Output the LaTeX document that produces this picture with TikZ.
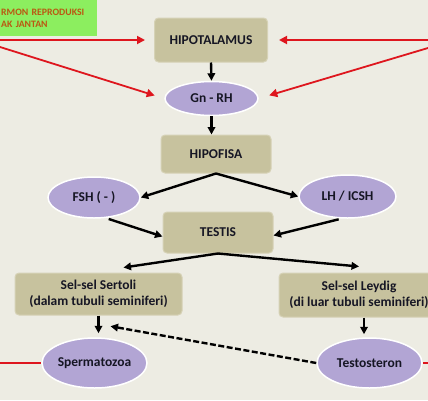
\documentclass[tikz,border=0pt]{standalone}
\usepackage{fontspec}
\setmainfont{Carlito}
\usepackage{tikz}
\usetikzlibrary{positioning,arrows.meta,calc,shapes.geometric}
\usepackage{xcolor}
\definecolor{bgcol}{RGB}{237,236,227}
\definecolor{boxcol}{RGB}{199,194,158}
\definecolor{boxedge}{RGB}{214,210,182}
\definecolor{ellcol}{RGB}{178,165,212}
\definecolor{greencol}{RGB}{140,238,95}
\definecolor{titlecol}{RGB}{186,88,18}
\definecolor{redcol}{RGB}{222,22,30}
\definecolor{textcol}{RGB}{22,22,36}

\begin{document}
\begin{tikzpicture}[
    x=1pt, y=-1pt,
    organ/.style={rectangle, rounded corners=4pt, fill=boxcol, draw=boxedge, line width=1pt,
        inner sep=1pt, align=center, font=\fontsize{13.5}{15.5}\selectfont\bfseries, text=textcol},
    hormon/.style={ellipse, fill=ellcol, draw=white, line width=1.5pt, inner sep=0pt,
        font=\fontsize{13.5}{15.5}\selectfont\bfseries, text=textcol},
    arr/.style={-{Triangle[length=7.5pt,width=7.5pt]}, line width=2.4pt, black},
    redarr/.style={-{Triangle[length=8pt,width=8pt]}, line width=1.8pt, redcol},
    redline/.style={line width=1.8pt, redcol},
    judulbox/.style={rectangle, fill=greencol, anchor=north west, text width=95pt, minimum height=36pt,
        inner xsep=1pt, align=left, font=\fontsize{9.8}{12}\selectfont\bfseries, text=titlecol}
]
\fill[bgcol] (0,0) rectangle (428,400);
\useasboundingbox (0,0) rectangle (428,400);
\clip (0,0) rectangle (428,400);

% title (cut at the left edge)
\node[judulbox] (judul) at (0,0) {RMON REPRODUKSI\\AK JANTAN};

% organs and hormones
\node[organ, minimum width=113pt, minimum height=44pt] (hipotalamus) at (211,40) {HIPOTALAMUS};
\node[hormon, minimum width=93pt, minimum height=34pt] (gnrh) at (211.5,98.5) {Gn - RH};
\node[organ, minimum width=110pt, minimum height=38pt] (hipofisa) at (216,154) {HIPOFISA};
\node[hormon, minimum width=92pt, minimum height=41pt] (fsh) at (94,197.5) {FSH ( - )};
\node[hormon, minimum width=97pt, minimum height=43pt] (lh) at (347.5,196.5) {LH / ICSH};
\node[organ, minimum width=110pt, minimum height=41pt] (testis) at (218,232.5) {TESTIS};
\node[organ, minimum width=167pt, minimum height=42pt] (sertoli) at (98.5,294) {Sel-sel Sertoli\\(dalam tubuli seminiferi)};
\node[organ, minimum width=160pt, minimum height=44pt] (leydig) at (359,295) {Sel-sel Leydig\\(di luar tubuli seminiferi)};
\node[hormon, minimum width=105pt, minimum height=50pt] (spermatozoa) at (94.5,363) {Spermatozoa};
\node[hormon, minimum width=105pt, minimum height=50pt] (testosteron) at (369.5,363) {Testosteron};

% free ends of the red lines
\coordinate (redL1) at (0,40);
\coordinate (redL2) at (0,47);
\coordinate (redR1) at (428,40);
\coordinate (redR2) at (428,48);
\coordinate (redL3) at (0,363);
\coordinate (redR3) at (428,363);

\draw[redarr, shorten >=9pt] (redL1) -- (hipotalamus.west);
\draw[redarr, shorten >=10pt] (redL2) -- (gnrh.west);
\draw[redarr, shorten >=11pt] (redR1) -- (hipotalamus.east);
\draw[redarr, shorten >=11pt] (redR2) -- (gnrh.east);
\draw[redline] (redL3) -- (spermatozoa.west);
\draw[redline] (testosteron.east) -- (redR3);

% black arrows
\draw[arr] (hipotalamus.south) -- (gnrh.north);
\draw[arr] (gnrh.south) -- (gnrh.south |- hipofisa.north);
\draw[arr] (hipofisa.south) -- (fsh.east);
\draw[arr] (hipofisa.south) -- (lh.west);
\draw[arr, shorten <=3pt] (fsh.-60) -- ($(testis.west)+(0,4)$);
\draw[arr, shorten <=3pt] (lh.-105) -- ($(testis.east)+(0,3)$);
\draw[arr] (testis.south) -- ($(sertoli.north)+(25,-5)$);
\draw[arr] (testis.south) -- ($(leydig.north)+(0,-6)$);
\draw[arr, shorten >=4pt] (sertoli.south) -- (sertoli.south |- spermatozoa.north);
\draw[arr, shorten >=3pt] ([xshift=5pt]leydig.south) -- ([xshift=5pt]leydig.south |- testosteron.north);
\draw[arr, dash pattern=on 6pt off 2.5pt] (testosteron.west) -- ($(spermatozoa.north)+(16,-11)$);
\end{tikzpicture}
\end{document}
